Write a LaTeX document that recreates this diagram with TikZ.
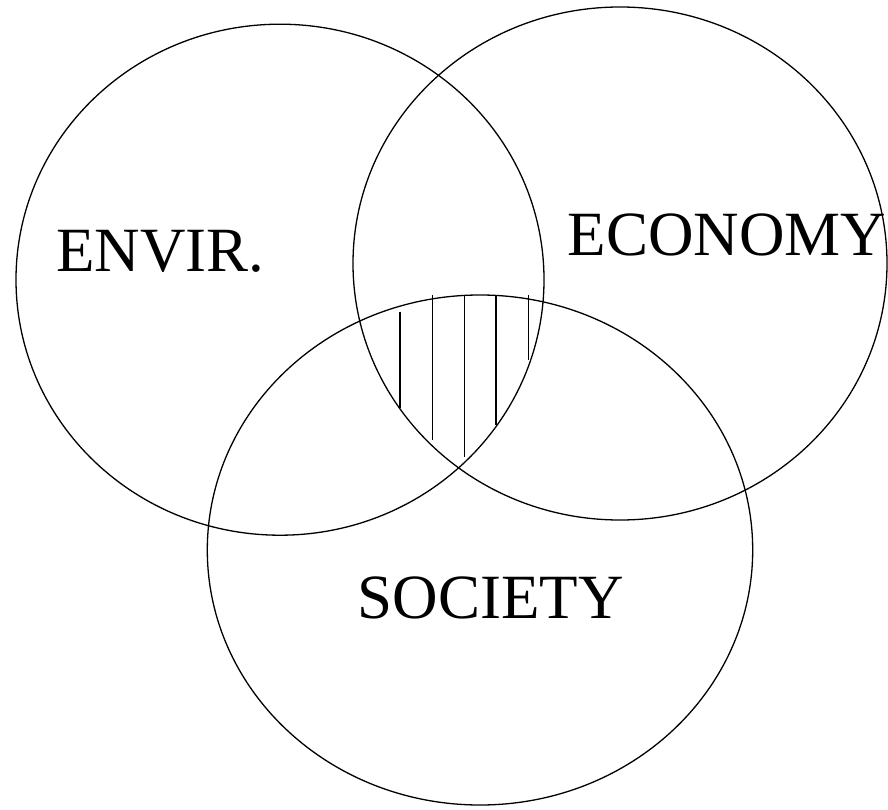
\documentclass[tikz,border=0pt]{standalone}
\usepackage{fontspec}
\setmainfont{Liberation Serif}
\begin{document}
\begin{tikzpicture}[x=1pt,y=-1pt,
  ring/.style={draw=black,line width=1.3pt},
  hatch/.style={draw=black,line width=1.5pt},
  lbl/.style={font=\fontsize{63}{65}\selectfont,inner sep=0pt,anchor=base}]
\useasboundingbox (0,0) rectangle (888,810);
\draw[ring] (280,279.7) ellipse [x radius=264,y radius=255.5];
\draw[ring] (620,263.5) ellipse [x radius=267,y radius=256.5];
\draw[ring] (480,550) ellipse [x radius=272.7,y radius=255];
\draw[hatch] (400,311.7) -- (400,407.7);
\draw[hatch] (432.3,295) -- (432.3,440);
\draw[hatch] (464.3,295) -- (464.3,456.7);
\draw[hatch] (496,295) -- (496,425);
\draw[hatch] (528.3,295) -- (528.3,360);
\node[lbl] (envir) at (160.5,271.7) {ENVIR.};
\node[lbl] (econ) at (727,255) {ECONOMY};
\node[lbl] (soc) at (490.5,618) {SOCIETY};
\end{tikzpicture}
\end{document}
